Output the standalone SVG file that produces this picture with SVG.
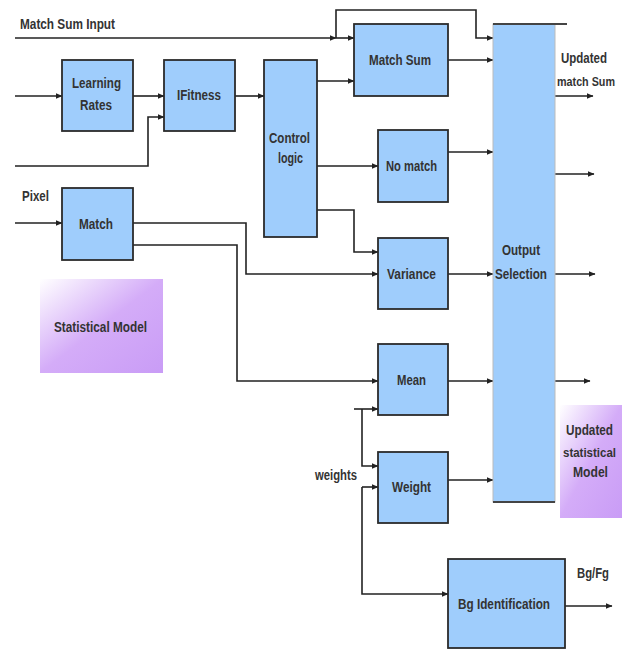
<svg xmlns="http://www.w3.org/2000/svg" width="624" height="650" viewBox="0 0 624 650">
<defs>
<style>
.box{fill:#9fcdfc;stroke:#2b2b2b;stroke-width:1.8}
.wire{fill:none;stroke:#222;stroke-width:1.6}
.t{font-family:"Liberation Sans Narrow","Liberation Sans",Arial,sans-serif;font-size:14px;font-weight:bold;fill:#333}
.s{font-size:12.5px}
</style>
<marker id="arr" markerWidth="7" markerHeight="6" refX="6.5" refY="3" orient="auto" markerUnits="userSpaceOnUse">
<path d="M0,0 L7,3 L0,6 z" fill="#222"/>
</marker>
<linearGradient id="purp" x1="0" y1="0" x2="1" y2="1">
<stop offset="0" stop-color="#ffffff"/>
<stop offset="0.5" stop-color="#d4acf8"/>
<stop offset="1" stop-color="#c99cf6"/>
</linearGradient>
</defs>
<rect width="624" height="650" fill="#fff"/>

<g id="connectors">
<path class="wire" marker-end="url(#arr)" d="M15,38 H336"/>
<path class="wire" marker-end="url(#arr)" d="M336,38 H354"/>
<path class="wire" marker-end="url(#arr)" d="M336,38 V10 H476 V38 H493"/>
<path class="wire" marker-end="url(#arr)" d="M15,96 H62"/>
<path class="wire" marker-end="url(#arr)" d="M133,96 H164" stroke-width="2.2"/>
<path class="wire" marker-end="url(#arr)" d="M15,166 H148 V117 H164"/>
<path class="wire" marker-end="url(#arr)" d="M235,96 H264"/>
<path class="wire" marker-end="url(#arr)" d="M317,81 H354"/>
<path class="wire" marker-end="url(#arr)" d="M317,166 H378"/>
<path class="wire" marker-end="url(#arr)" d="M317,210 H354 V252 H378"/>
<path class="wire" marker-end="url(#arr)" d="M448,60 H493"/>
<path class="wire" marker-end="url(#arr)" d="M448,152 H493"/>
<path class="wire" marker-end="url(#arr)" d="M448,274 H493"/>
<path class="wire" marker-end="url(#arr)" d="M448,381 H493"/>
<path class="wire" marker-end="url(#arr)" d="M448,480 H493"/>
<path class="wire" marker-end="url(#arr)" d="M555,96 H593"/>
<path class="wire" marker-end="url(#arr)" d="M555,174 H594"/>
<path class="wire" marker-end="url(#arr)" d="M555,274 H595"/>
<path class="wire" marker-end="url(#arr)" d="M555,381 H590"/>
<path class="wire" marker-end="url(#arr)" d="M15,223 H62"/>
<path class="wire" marker-end="url(#arr)" d="M133,223 H246 V274 H378"/>
<path class="wire" marker-end="url(#arr)" d="M133,245 H237 V381 H378"/>
<path class="wire" marker-end="url(#arr)" d="M354,409 H378"/>
<path class="wire" marker-end="url(#arr)" d="M362,409 V466 H378"/>
<path class="wire" marker-end="url(#arr)" d="M362,487 H378"/>
<path class="wire" marker-end="url(#arr)" d="M362,487 V594 H448"/>
<path class="wire" marker-end="url(#arr)" d="M565,606 H612"/>
</g>

<g id="labels">
<text class="t" x="20" y="29" textLength="95" lengthAdjust="spacingAndGlyphs">Match Sum Input</text>
<text class="t" x="22" y="201" textLength="27" lengthAdjust="spacingAndGlyphs">Pixel</text>
<text class="t" x="561" y="63" textLength="46" lengthAdjust="spacingAndGlyphs">Updated</text>
<text class="t s" x="557" y="86" textLength="58" lengthAdjust="spacingAndGlyphs">match Sum</text>
<text class="t" x="315" y="480" textLength="42" lengthAdjust="spacingAndGlyphs">weights</text>
<text class="t" x="577" y="578" textLength="32" lengthAdjust="spacingAndGlyphs">Bg/Fg</text>
</g>

<g id="learning-rates">
<rect class="box" x="62" y="60" width="71" height="71"/>
<text class="t" x="72" y="88" textLength="49" lengthAdjust="spacingAndGlyphs">Learning</text>
<text class="t" x="80" y="110" textLength="32" lengthAdjust="spacingAndGlyphs">Rates</text>
</g>
<g id="ifitness">
<rect class="box" x="164" y="60" width="71" height="71"/>
<text class="t" x="177" y="100" textLength="44" lengthAdjust="spacingAndGlyphs">IFitness</text>
</g>
<g id="control-logic">
<rect class="box" x="264" y="60" width="53" height="177"/>
<text class="t" x="269" y="143" textLength="41" lengthAdjust="spacingAndGlyphs">Control</text>
<text class="t" x="278" y="163" textLength="25" lengthAdjust="spacingAndGlyphs">logic</text>
</g>
<g id="match-sum">
<rect class="box" x="354" y="24" width="94" height="72"/>
<text class="t" x="369" y="65" textLength="62" lengthAdjust="spacingAndGlyphs">Match Sum</text>
</g>
<g id="no-match">
<rect class="box" x="378" y="130" width="70" height="72"/>
<text class="t" x="386" y="171" textLength="51" lengthAdjust="spacingAndGlyphs">No match</text>
</g>
<g id="variance">
<rect class="box" x="378" y="238" width="70" height="71"/>
<text class="t" x="387" y="279" textLength="49" lengthAdjust="spacingAndGlyphs">Variance</text>
</g>
<g id="mean">
<rect class="box" x="378" y="344" width="70" height="71"/>
<text class="t" x="397" y="385" textLength="29" lengthAdjust="spacingAndGlyphs">Mean</text>
</g>
<g id="weight">
<rect class="box" x="378" y="452" width="70" height="71"/>
<text class="t" x="392" y="492" textLength="39" lengthAdjust="spacingAndGlyphs">Weight</text>
</g>
<g id="match">
<rect class="box" x="62" y="188" width="71" height="72"/>
<text class="t" x="79" y="229" textLength="34" lengthAdjust="spacingAndGlyphs">Match</text>
</g>
<g id="output-selection">
<rect x="493" y="24" width="62" height="478" fill="#9fcdfc" stroke="#bbb" stroke-width="1"/>
<line x1="493" y1="24" x2="567" y2="24" stroke="#444" stroke-width="1.8"/>
<line x1="493" y1="502" x2="555" y2="502" stroke="#444" stroke-width="1.8"/>
<text class="t" x="502" y="255" textLength="38" lengthAdjust="spacingAndGlyphs">Output</text>
<text class="t" x="495" y="279" textLength="52" lengthAdjust="spacingAndGlyphs">Selection</text>
</g>
<g id="bg-identification">
<rect class="box" x="448" y="559" width="117" height="89"/>
<text class="t" x="458" y="609" textLength="92" lengthAdjust="spacingAndGlyphs">Bg Identification</text>
</g>
<g id="statistical-model">
<rect x="40" y="279" width="123" height="94" fill="url(#purp)"/>
<text class="t" x="54" y="332" textLength="93" lengthAdjust="spacingAndGlyphs">Statistical Model</text>
</g>
<g id="updated-statistical-model">
<rect x="560" y="405" width="62" height="113" fill="url(#purp)"/>
<text class="t" x="566" y="435" textLength="47" lengthAdjust="spacingAndGlyphs">Updated</text>
<text class="t s" x="563" y="457" textLength="53" lengthAdjust="spacingAndGlyphs">statistical</text>
<text class="t" x="573" y="477" textLength="35" lengthAdjust="spacingAndGlyphs">Model</text>
</g>
</svg>
